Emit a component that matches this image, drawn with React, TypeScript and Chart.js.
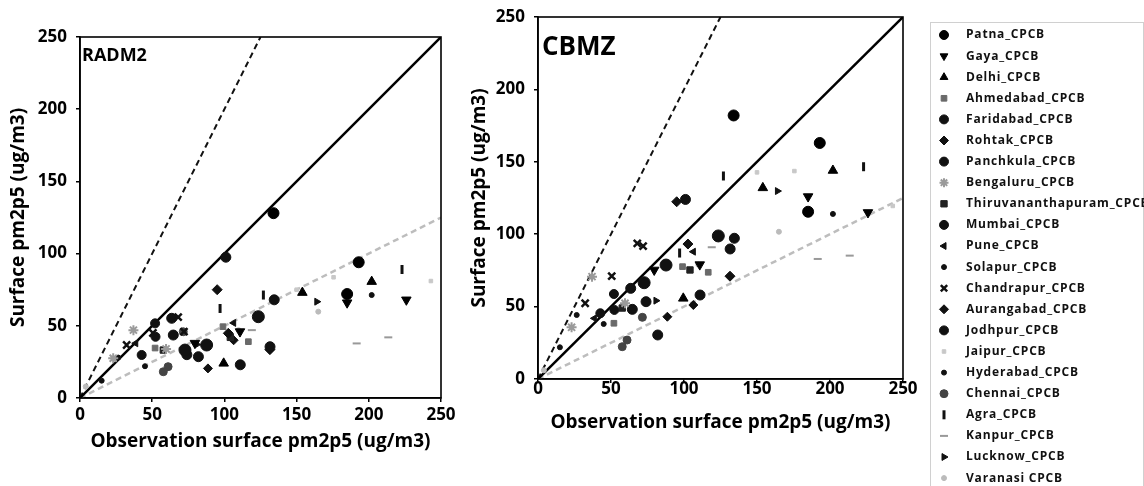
import React, { useEffect, useRef } from 'react';
import { Chart, registerables } from 'chart.js';
import { drawPoint } from 'chart.js/helpers';

Chart.register(...registerables);

// ---------- DATA ----------
const stations = [
  'Patna_CPCB', 'Gaya_CPCB', 'Delhi_CPCB', 'Ahmedabad_CPCB', 'Faridabad_CPCB', 'Rohtak_CPCB',
  'Panchkula_CPCB', 'Bengaluru_CPCB', 'Thiruvananthapuram_CPCB', 'Mumbai_CPCB', 'Pune_CPCB',
  'Solapur_CPCB', 'Chandrapur_CPCB', 'Aurangabad_CPCB', 'Jodhpur_CPCB', 'Jaipur_CPCB',
  'Hyderabad_CPCB', 'Chennai_CPCB', 'Agra_CPCB', 'Kanpur_CPCB', 'Lucknow_CPCB', 'Varanasi CPCB',
];

// observed surface pm2p5 per station (ug/m3)
const obsValues: number[][] = [
  [134, 193, 185],
  [185, 226, 110.8, 79.6],
  [154, 202, 99.5],
  [99, 116.6, 52],
  [101, 134.5, 131.6],
  [95, 131.5, 102.7],
  [52, 42.7, 52.3],
  [37, 23, 59.6],
  [57.7, 104.1],
  [123.5, 87.7, 72.7],
  [38.6, 106.4],
  [45, 26.5],
  [68, 72, 50.5, 32.3],
  [106.4, 88.6],
  [63.5, 64.6, 111, 82, 74],
  [150, 175.6, 243],
  [202, 15],
  [61, 57.7, 71.5],
  [127, 223, 97],
  [191.6, 213.5, 119],
  [164, 80.8],
  [165, 4, 109.8],
];

// RADM2 modelled surface pm2p5
const radm2Values: number[][] = [
  [128, 94, 72],
  [66, 68, 46, 38],
  [73, 80.6, 24],
  [49.4, 39, 34.6],
  [97.5, 68, 35.5],
  [75, 33.5, 44.8],
  [51.7, 29.8, 42.4],
  [47, 27.5, 34],
  [33.2, 42],
  [56.3, 36.7, 33.2],
  [37.9, 52],
  [22, 28],
  [56, 46, 45, 36.7],
  [40, 20.5],
  [55.2, 43.6, 23, 28.6, 30],
  [75, 83.6, 81],
  [71.3, 12],
  [21.7, 18.2, 45.9],
  [71.3, 89, 62],
  [37.8, 42, 47],
  [66.7, 37],
  [59.8, 8, 47],
];

// CBMZ modelled surface pm2p5
const cbmzValues: number[][] = [
  [182, 163, 115.5],
  [126, 115, 79, 75.3],
  [132, 144, 55.7],
  [77.6, 73.7, 38.5],
  [124, 97.2, 89.8],
  [122.4, 71, 93.2],
  [58.7, 45.4, 47.7],
  [70.7, 35.7, 52.3],
  [49, 75.3],
  [98.8, 78.7, 66.5],
  [41.9, 87.9],
  [38, 44.2],
  [93.7, 91.8, 71.1, 52.3],
  [51.1, 43],
  [62.6, 48.1, 58, 30.4, 53.4],
  [142.7, 143.6, 119.5],
  [114, 21.9],
  [26.9, 22.3, 42.6],
  [140.2, 146.6, 87],
  [82.9, 85.2, 91],
  [129.8, 54.1],
  [101.7, 6, 79],
];

const axisTicks = [0, 50, 100, 150, 200, 250];
const lineOneToOne = [[0, 0], [250, 250]];
const lineTwoToOne = [[0, 0], [125, 250]];
const lineOneToTwo = [[0, 0], [250, 125]];

// ---------- STYLES ----------
type Marker = { pointStyle: any; radius: number; color: string; rotation: number; bw: number };
const markerStyles: Marker[] = [
  { pointStyle: 'circle', radius: 5.5, color: '#000', rotation: 0, bw: 1 },
  { pointStyle: 'triangle', radius: 5.5, color: '#000', rotation: 180, bw: 1 },
  { pointStyle: 'triangle', radius: 5.5, color: '#000', rotation: 0, bw: 1 },
  { pointStyle: 'rect', radius: 4, color: '#6a6a6a', rotation: 0, bw: 1 },
  { pointStyle: 'circle', radius: 5, color: '#111', rotation: 0, bw: 1 },
  { pointStyle: 'rectRot', radius: 5, color: '#111', rotation: 0, bw: 1 },
  { pointStyle: 'circle', radius: 4.5, color: '#111', rotation: 0, bw: 1 },
  { pointStyle: 'star', radius: 5, color: '#9a9a9a', rotation: 0, bw: 2 },
  { pointStyle: 'rect', radius: 4.5, color: '#222', rotation: 0, bw: 1 },
  { pointStyle: 'circle', radius: 6, color: '#111', rotation: 0, bw: 1 },
  { pointStyle: 'triangle', radius: 4, color: '#111', rotation: -90, bw: 1 },
  { pointStyle: 'circle', radius: 2.5, color: '#111', rotation: 0, bw: 1 },
  { pointStyle: 'crossRot', radius: 5, color: '#111', rotation: 0, bw: 2.5 },
  { pointStyle: 'rectRot', radius: 4.5, color: '#111', rotation: 0, bw: 1 },
  { pointStyle: 'circle', radius: 5, color: '#111', rotation: 0, bw: 1 },
  { pointStyle: 'rect', radius: 2.5, color: '#c8c8c8', rotation: 0, bw: 1 },
  { pointStyle: 'circle', radius: 2.5, color: '#111', rotation: 0, bw: 1 },
  { pointStyle: 'circle', radius: 4, color: '#444', rotation: 0, bw: 1 },
  { pointStyle: 'line', radius: 4.5, color: '#111', rotation: 90, bw: 3 },
  { pointStyle: 'line', radius: 4, color: '#999', rotation: 0, bw: 2 },
  { pointStyle: 'triangle', radius: 4, color: '#111', rotation: 90, bw: 1 },
  { pointStyle: 'circle', radius: 2.5, color: '#bbb', rotation: 0, bw: 1 },
];

const FONT = "'Open Sans', 'DejaVu Sans', sans-serif";

function buildDatasets(model: number[][]) {
  const pts: any[] = stations.map((name, i) => {
    const s = markerStyles[i];
    return {
      type: 'scatter',
      label: name,
      data: obsValues[i].map((x, j) => ({ x, y: model[i][j] })),
      pointStyle: s.pointStyle,
      pointRadius: s.radius,
      pointRotation: s.rotation,
      pointBorderWidth: s.bw,
      backgroundColor: s.color,
      borderColor: s.color,
      showLine: false,
    };
  });
  const mk = (d: number[][], color: string, dash: number[], w: number) => ({
    type: 'scatter',
    label: '',
    data: d.map(([x, y]) => ({ x, y })),
    showLine: true,
    pointRadius: 0,
    borderColor: color,
    borderWidth: w,
    borderDash: dash,
    backgroundColor: color,
  });
  pts.push(mk(lineOneToOne, '#000', [], 2.5));
  pts.push(mk(lineTwoToOne, '#111', [6, 4], 2));
  pts.push(mk(lineOneToTwo, '#bdbdbd', [6, 4], 2.5));
  return pts;
}

type Geo = {
  padTop: number; padRight: number; padBottom: number;
  yWidth: number; xHeight: number;
  xTickPad: number; xTitlePad: number; yTitlePad: number;
  label: string; labelSize: number; labelX: number; labelY: number;
  legend: boolean;
};

function makeConfig(model: number[][], g: Geo): any {
  const boxPlugin = {
    id: 'boxAndLabel',
    afterDraw(chart: any) {
      const { ctx, chartArea: a } = chart;
      ctx.save();
      ctx.strokeStyle = '#000';
      ctx.lineWidth = 1.6;
      ctx.strokeRect(a.left, a.top, a.right - a.left, a.bottom - a.top);
      ctx.fillStyle = '#000';
      ctx.font = `bold ${g.labelSize}px ${FONT}`;
      ctx.textBaseline = 'middle';
      ctx.textAlign = 'left';
      ctx.fillText(g.label, a.left + g.labelX, a.top + g.labelY);
      if (g.legend) {
        const lx = 930 - 460;
        ctx.strokeStyle = '#d0d0d0';
        ctx.lineWidth = 1;
        ctx.strokeRect(lx + 0.5, 22.5, 1143 - 930, 486);
        stations.forEach((name, i) => {
          const s = markerStyles[i];
          const y = 35 + i * 21.1;
          ctx.fillStyle = s.color;
          ctx.strokeStyle = s.color;
          ctx.lineWidth = s.bw;
          drawPoint(ctx, { pointStyle: s.pointStyle, rotation: s.rotation, radius: Math.min(s.radius, 4.5), borderWidth: s.bw } as any, 944 - 460, y);
          ctx.fillStyle = '#111';
          ctx.font = `bold 12px ${FONT}`;
          (ctx as any).letterSpacing = '0.8px';
          ctx.textBaseline = 'middle';
          ctx.fillText(name, 966 - 460, y);
          (ctx as any).letterSpacing = '0px';
        });
      }
      ctx.restore();
    },
  };
  const setTicks = (s: any) => { s.ticks = axisTicks.map((v) => ({ value: v })); };
  return {
    type: 'scatter',
    data: { datasets: buildDatasets(model) },
    plugins: [boxPlugin],
    options: {
      responsive: false,
      animation: false,
      devicePixelRatio: 1,
      layout: { padding: { top: g.padTop, right: g.padRight, bottom: g.padBottom, left: 0 } },
      plugins: { legend: { display: false }, tooltip: { enabled: false } },
      scales: {
        x: {
          type: 'linear',
          min: 0,
          max: 250,
          afterBuildTicks: setTicks,
          afterFit: (s: any) => { s.height = g.xHeight; s.paddingLeft = 0; s.paddingRight = 0; },
          grid: { display: true, drawOnChartArea: false, drawTicks: true, tickLength: 4, color: '#000', lineWidth: 1.5 },
          border: { display: true, color: '#000', width: 1.6 },
          ticks: { color: '#000', padding: g.xTickPad, maxRotation: 0, font: { family: FONT, size: 17, weight: 'bold' } },
          title: {
            display: true,
            text: 'Observation surface pm2p5 (ug/m3)',
            color: '#000',
            font: { family: FONT, size: 19, weight: 'bold' },
            padding: { top: 0, bottom: g.xTitlePad },
          },
        },
        y: {
          type: 'linear',
          min: 0,
          max: 250,
          afterBuildTicks: setTicks,
          afterFit: (s: any) => { s.width = g.yWidth; s.paddingTop = 0; s.paddingBottom = 0; },
          grid: { display: true, drawOnChartArea: false, drawTicks: true, tickLength: 4, color: '#000', lineWidth: 1.5 },
          border: { display: true, color: '#000', width: 1.6 },
          ticks: { color: '#000', padding: 9, font: { family: FONT, size: 17, weight: 'bold' } },
          title: {
            display: true,
            text: 'Surface pm2p5 (ug/m3)',
            color: '#000',
            font: { family: FONT, size: 19, weight: 'bold' },
            padding: { top: g.yTitlePad, bottom: 0 },
          },
        },
      },
    },
  };
}

function ChartCanvas({ model, geo, width, height, left, top }: any) {
  const ref = useRef<HTMLCanvasElement | null>(null);
  useEffect(() => {
    if (!ref.current) return;
    const chart = new Chart(ref.current, makeConfig(model, geo));
    return () => chart.destroy();
  }, []);
  return (
    <canvas
      ref={ref}
      width={width}
      height={height}
      style={{ position: 'absolute', left, top, width, height }}
    />
  );
}

export default function App() {
  const leftGeo: Geo = {
    padTop: 37, padRight: 19, padBottom: 0, yWidth: 80, xHeight: 62,
    xTickPad: 3, xTitlePad: 7, yTitlePad: 7,
    label: 'RADM2', labelSize: 18, labelX: 2, labelY: 19, legend: false,
  };
  const rightGeo: Geo = {
    padTop: 17, padRight: 684 - 443, padBottom: 46, yWidth: 78, xHeight: 61,
    xTickPad: -4, xTitlePad: 6, yTitlePad: 8,
    label: 'CBMZ', labelSize: 26, labelX: 4, labelY: 31, legend: true,
  };
  return (
    <div style={{ position: 'absolute', left: 0, top: 0, width: 1144, height: 486, background: '#fff', overflow: 'hidden' }}>
      <ChartCanvas model={radm2Values} geo={leftGeo} width={460} height={460} left={0} top={0} />
      <ChartCanvas model={cbmzValues} geo={rightGeo} width={684} height={486} left={460} top={0} />
    </div>
  );
}
